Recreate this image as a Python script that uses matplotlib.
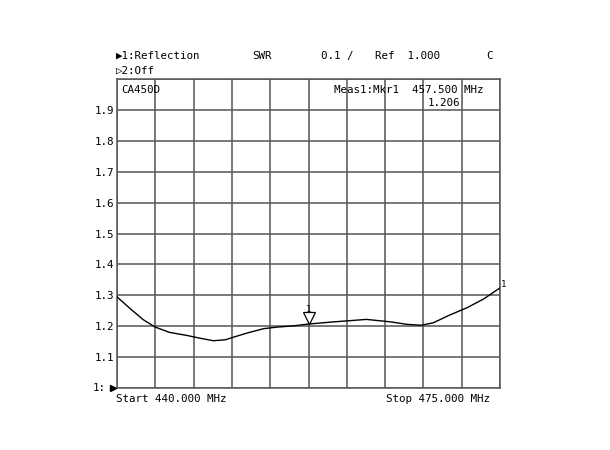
import matplotlib
matplotlib.use("Agg")
import matplotlib.pyplot as plt
import numpy as np

# Data
freq_mhz = [440.0, 441.2, 442.4, 443.5, 444.8, 446.4, 447.6, 448.8, 449.9, 450.6,
            451.9, 453.4, 454.6, 456.1, 457.5, 459.8, 462.8, 465.0, 466.5, 467.8,
            468.9, 470.4, 472.0, 473.5, 475.0]
swr = [1.295, 1.257, 1.221, 1.197, 1.180, 1.170, 1.161, 1.153, 1.156, 1.164,
       1.178, 1.192, 1.197, 1.201, 1.207, 1.214, 1.222, 1.214, 1.206, 1.203,
       1.211, 1.236, 1.260, 1.288, 1.324]
ytick_vals = [1.1, 1.2, 1.3, 1.4, 1.5, 1.6, 1.7, 1.8, 1.9]
ytick_labels = ["1.1", "1.2", "1.3", "1.4", "1.5", "1.6", "1.7", "1.8", "1.9"]
start_f, stop_f = 440.0, 475.0
y_ref, y_top = 1.0, 2.0
marker_f, marker_v = 457.5, 1.206

mono = "DejaVu Sans Mono"
fs = 7.8
grid_c = "#555555"

fig = plt.figure(figsize=(6.1, 4.5), dpi=100)
ax = fig.add_axes([117/610, 1-388/450, 383/610, 309/450])
ax.set_xlim(start_f, stop_f)
ax.set_ylim(y_ref, y_top)

for xv in np.linspace(start_f, stop_f, 11):
    ax.axvline(xv, color=grid_c, lw=1.1, zorder=1)
for yv in np.linspace(y_ref, y_top, 11):
    ax.axhline(yv, color=grid_c, lw=1.1, zorder=1)
for s in ax.spines.values():
    s.set_color(grid_c)
    s.set_linewidth(1.1)

ax.plot(freq_mhz, swr, color="black", lw=1.0, zorder=3, solid_joinstyle="round")

ax.set_xticks([])
ax.set_yticks(ytick_vals)
ax.set_yticklabels(ytick_labels, fontfamily=mono, fontsize=fs)
ax.tick_params(axis="y", length=0, pad=2.2)

# bottom reference label
ax.text(-0.029, 0.0, "1:", transform=ax.transAxes, fontfamily=mono, fontsize=fs,
        ha="right", va="center")
ax.plot([start_f - 0.37], [y_ref], marker=">", color="black", markersize=5,
        clip_on=False, zorder=5)
ax.text(1.003, (swr[-1] - y_ref) / (y_top - y_ref) + 0.01, "1", transform=ax.transAxes,
        fontfamily=mono, fontsize=6.5, ha="left", va="center")

# marker 1
ax.plot([marker_f], [marker_v + 0.021], marker="v", markersize=8, markerfacecolor="white",
        markeredgecolor="black", markeredgewidth=0.9, zorder=4)
ax.text(marker_f, marker_v + 0.047, "1", fontfamily=mono, fontsize=6.5, ha="center",
        va="center")

# inner annotations
ax.text(0.012, 0.965, "CA450D", transform=ax.transAxes, fontfamily=mono, fontsize=fs,
        va="center", ha="left")
ax.text(0.566, 0.965, "Meas1:Mkr1  457.500 MHz", transform=ax.transAxes,
        fontfamily=mono, fontsize=fs, va="center", ha="left")
ax.text(0.81, 0.923, "1.206", transform=ax.transAxes, fontfamily=mono, fontsize=fs,
        va="center", ha="left")

# header
def ftext(x, y, s, **kw):
    fig.text(x/610, 1-y/450, s, fontfamily=mono, fontsize=fs, va="center", **kw)

ftext(116, 56, "\u25B61:Reflection")
ftext(116, 71, "\u25B72:Off")
ftext(252, 56, "SWR")
ftext(321, 56, "0.1 /")
ftext(375, 56, "Ref  1.000")
ftext(486, 56, "C")
ftext(116, 399, "Start 440.000 MHz")
ftext(386, 399, "Stop 475.000 MHz")

fig.savefig("out.png", dpi=100, facecolor="white")
